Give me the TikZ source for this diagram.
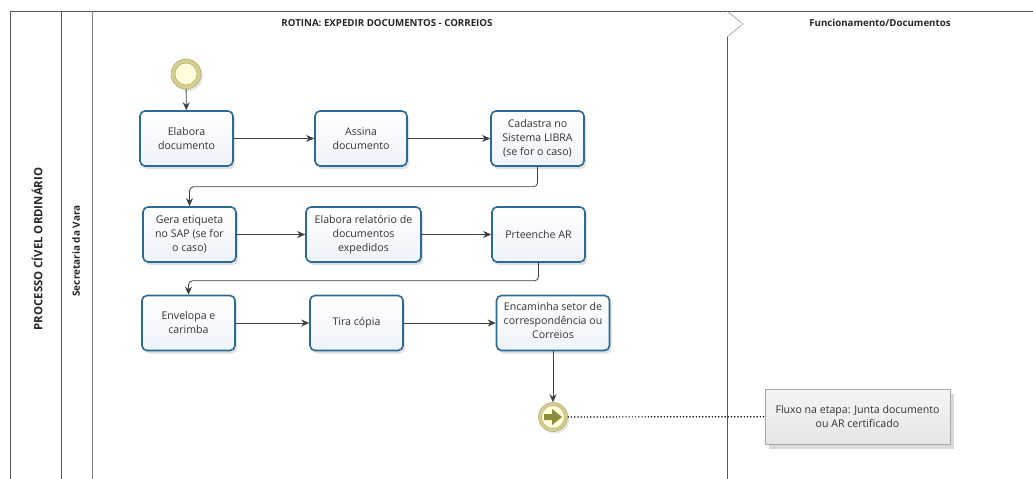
\documentclass[tikz,border=0pt]{standalone}
\usepackage{fontspec}
\setmainfont{Open Sans}
\usetikzlibrary{arrows.meta,shadows,positioning}
\definecolor{boxborder}{HTML}{2B6A94}
\definecolor{boxfill}{HTML}{EEF3FA}
\definecolor{evring}{HTML}{D6D08E}
\definecolor{evdark}{HTML}{8C8A3C}
\definecolor{lanegray}{HTML}{555555}
\tikzset{
  task/.style={draw=boxborder, line width=1.6pt, rounded corners=5pt,
    top color=white, bottom color=boxfill, minimum width=#1, minimum height=55pt,
    align=center, font=\fontsize{10.6}{14}\selectfont, text=black!80, inner sep=1pt,
    drop shadow={shadow xshift=2pt, shadow yshift=-3pt, opacity=0.25, fill=gray}},
  task/.default=93pt,
  flow/.style={draw=black!75, line width=0.8pt, -{Stealth[length=8pt,width=7pt]}, rounded corners=4pt},
  lane/.style={draw=lanegray, line width=0.8pt},
  title/.style={font=\fontsize{9.7}{12}\selectfont\bfseries, text=black!85},
}
\begin{document}
\begin{tikzpicture}[x=1pt,y=-1pt]
\useasboundingbox (0,0) rectangle (1033,479);
% pool / lanes
\draw[lane] (1033,11) -- (10,11) -- (10,479);
\draw[lane] (61,11) -- (61,479);
\draw[lane, draw=gray] (92,11) -- (92,479);
\draw[draw=gray!70, line width=0.7pt] (727,11) -- (743,24) -- (727,37);
\draw[lane] (727,37) -- (727,479);
\node[title] (t1) at (387,23) {ROTINA: EXPEDIR DOCUMENTOS - CORREIOS};
\node[title] (t2) at (880,23) {Funcionamento/Documentos};
\node[title, rotate=90, font=\fontsize{11.4}{13}\selectfont\bfseries] (pool) at (37,249) {PROCESSO CÍVEL ORDINÁRIO};
\node[title, rotate=90, font=\fontsize{10}{12}\selectfont\bfseries] (lane1) at (76,251) {Secretaria da Vara};
% start event
\node[circle, draw=evring!80!black, line width=0.5pt, fill=evring, minimum size=30pt, inner sep=0pt,
  drop shadow={shadow xshift=2pt, shadow yshift=-2pt, opacity=0.2, fill=gray}] (start) at (186,74) {};
\node[circle, draw=evring!80!black, line width=0.5pt, fill=white!85!yellow, minimum size=22pt, inner sep=0pt] (startin) at (186,74) {};
% tasks
\node[task] (a1) at (186.5,138.5) {Elabora\\documento};
\node[task=92pt] (a2) at (361,138.5) {Assina\\documento};
\node[task] (a3) at (537.5,138.5) {Cadastra no\\Sistema LIBRA\\(se for o caso)};
\node[task] (b1) at (189.5,234.5) {Gera etiqueta\\no SAP (se for\\o caso)};
\node[task=115pt] (b2) at (363.5,234.5) {Elabora relatório de\\documentos\\expedidos};
\node[task] (b3) at (538.5,234.5) {Prteenche AR};
\node[task] (c1) at (188.5,323) {Envelopa e\\carimba};
\node[task] (c2) at (356.5,323) {Tira cópia};
\node[task=113pt, text depth=6pt] (c3) at (553,323) {Encaminha setor de\\correspondência ou\\Correios};
% end event
\node[circle, draw=evring!80!black, line width=0.5pt, fill=evring, minimum size=29pt, inner sep=0pt,
  drop shadow={shadow xshift=2pt, shadow yshift=-2pt, opacity=0.2, fill=gray}] (end) at (553,417) {};
\node[circle, draw=evring!80!black, line width=0.5pt, fill=white!85!yellow, minimum size=23pt, inner sep=0pt] (endin) at (553,417) {};
\fill[evdark] (544,414) -- (552,414) -- (552,409) -- (562,417) -- (552,425) -- (552,420) -- (544,420) -- cycle;
% annotation
\node[draw=gray!70, line width=0.6pt, top color=white!96!black, bottom color=black!10, minimum width=185pt, minimum height=55pt,
  align=center, font=\fontsize{10.6}{14}\selectfont, text=black!80,
  drop shadow={shadow xshift=4pt, shadow yshift=-5pt, opacity=0.3, fill=gray}] (note) at (857.5,416.5) {Fluxo na etapa: Junta documento\\ou AR certificado};
% flows
\draw[flow] (start) -- (a1);
\draw[flow] (a1) -- (a2);
\draw[flow] (a2) -- (a3);
\draw[flow] (a3.south) -- ++(0,20) -| (b1.north);
\draw[flow] (b1) -- (b2);
\draw[flow] (b2) -- (b3);
\draw[flow] (b3.south) -- ++(0,18) -| (c1.north);
\draw[flow] (c1) -- (c2);
\draw[flow] (c2) -- (c3);
\draw[flow] (c3) -- (end);
\draw[black, line width=1.2pt, dotted] (end) -- (note);
\end{tikzpicture}
\end{document}
